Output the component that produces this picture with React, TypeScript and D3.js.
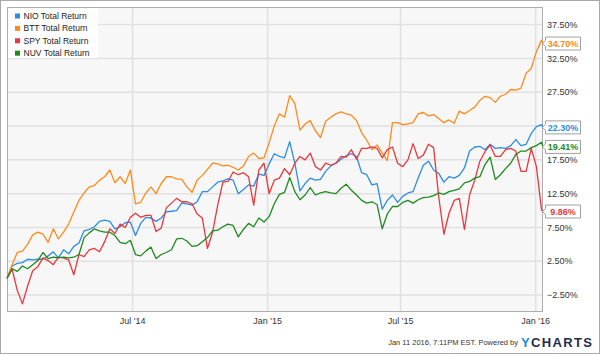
import React, { useEffect, useRef } from "react";
import * as d3 from "d3";

// weekly closes from the start date, last entry is the end date
const startDate = "2014-01-11";
const endDate = "2016-01-11";

const nio = [
  0, 1.8, 2.2, 2.3, 2.8, 2.7, 2.8, 2.8, 3.3, 3.9,
  3.0, 4.2, 3.6, 4.7, 5.2, 7.0, 7.2, 7.6, 8.4, 8.6,
  8.4, 7.3, 7.6, 8.2, 8.3, 6.3, 8.1, 9.0, 8.9, 8.4,
  8.9, 9.8, 9.9, 10.0, 11.1, 11.0, 10.8, 11.3, 12.8, 12.8,
  13.5, 14.2, 14.4, 14.7, 14.5, 12.5, 13.1, 13.8, 13.6, 15.4,
  15.2, 16.9, 18.4, 18.0, 17.8, 20.2, 17.0, 12.9, 14.0, 14.8,
  14.5, 14.6, 15.8, 16.6, 17.0, 17.6, 18.1, 18.4, 18.0, 15.6,
  15.3, 13.8, 14.0, 10.2, 11.5, 12.3, 11.2, 12.1, 12.6, 12.8,
  14.8, 16.7, 17.3, 16.0, 15.5, 14.2, 15.0, 14.8, 15.2, 16.3,
  18.8, 19.4, 19.5, 19.0, 19.8, 19.2, 19.3, 19.2, 19.6, 20.5,
  19.6, 19.8, 21.4, 22.4, 22.7, 22.3,
];
const btt = [
  0, 2.0, 3.8, 4.0, 5.0, 6.4, 6.8, 6.5, 5.3, 7.3,
  5.8, 6.8, 8.0, 9.8, 11.5, 12.6, 13.5, 13.7, 14.5, 15.0,
  16.0, 14.1, 15.0, 14.0, 16.0, 11.0, 11.2, 12.6, 13.5, 12.5,
  14.0, 15.0, 15.0, 14.7, 14.6, 13.5, 12.7, 14.5, 15.2, 16.1,
  17.0, 16.9, 16.6, 16.7, 16.4, 16.0, 16.6, 18.0, 18.5, 17.7,
  17.8, 20.0, 22.5, 24.3, 23.8, 27.0, 25.8, 21.9, 22.8, 23.3,
  21.8, 20.8, 23.2, 23.8, 24.3, 24.6, 24.3, 24.1, 23.3, 21.5,
  20.4, 19.0, 19.7, 18.5, 17.4, 23.0, 23.0, 22.7, 22.8, 23.0,
  24.3, 24.5, 24.0, 24.2, 23.6, 23.0, 23.4, 22.9, 24.7, 24.3,
  24.8, 25.3, 26.3, 26.9, 26.7, 26.0, 26.9, 27.2, 27.9, 27.8,
  28.1, 30.3, 31.0, 33.5, 35.2, 34.7,
];
const spy = [
  0, 1.3, -1.8, -3.8, -1.2, 1.1, 1.7, 3.0, 2.6, 2.0,
  3.1, 3.0, 2.7, 0.5, 3.5, 3.2, 4.2, 4.4, 3.9, 5.4,
  7.3, 6.6, 8.0, 7.5, 9.0, 9.6, 9.0, 9.3, 9.3, 6.9,
  7.4, 10.4, 11.1, 11.8, 11.3, 11.3, 11.0, 9.5, 8.9, 4.4,
  6.8, 10.8, 14.2, 14.3, 15.7, 15.3, 15.6, 15.0, 10.8, 16.0,
  17.0, 12.5, 14.5, 14.8, 16.2, 15.3, 17.0, 18.0, 17.5, 18.5,
  16.5, 16.0, 17.0, 16.7, 17.0, 18.0, 17.9, 19.0, 17.6, 19.2,
  19.2, 19.4, 19.2, 17.8, 19.0, 19.4, 17.0, 16.5, 17.5, 19.9,
  17.7, 18.2, 19.8, 19.3, 12.0, 6.5, 9.6, 11.5, 11.8, 7.2,
  12.3, 14.5, 17.3, 18.7, 19.7, 18.0, 18.0, 19.0, 19.2, 18.8,
  15.8, 15.8, 19.2, 16.5, 10.1, 9.86,
];
const nuv = [
  0, 1.4, 1.0, 1.8, 1.4, 2.0, 2.6, 3.8, 2.9, 3.1,
  3.0, 3.1, 3.0, 3.1, 3.5, 6.0, 6.7, 7.3, 7.0, 6.8,
  6.8, 6.3, 5.3, 5.1, 5.6, 3.5, 3.3, 4.0, 4.6, 2.9,
  3.5, 3.8, 4.2, 5.8, 5.9, 5.5, 4.7, 4.8, 5.4, 6.0,
  7.0, 7.1, 7.6, 8.0, 7.8, 6.1, 7.2, 8.1, 7.6, 8.9,
  8.3, 9.1, 11.0, 12.4, 12.7, 14.9, 12.8, 11.6, 12.3, 13.4,
  12.3, 12.6, 12.8, 12.6, 12.5, 13.3, 13.9, 13.0, 12.3, 11.5,
  11.1, 11.3, 10.9, 7.3, 9.5, 10.6, 10.6, 11.2, 11.5, 11.1,
  11.6, 11.9, 12.0, 12.2, 12.6, 12.4, 12.8, 13.0, 13.2, 14.1,
  14.3, 14.8, 15.0, 16.8, 17.9, 14.6, 15.3, 16.2, 17.0, 18.3,
  18.8, 18.8, 19.3, 19.6, 20.1, 19.41,
];

const seriesNames = ["NIO Total Return", "BTT Total Return", "SPY Total Return", "NUV Total Return"];
const seriesColors = ["#2b8ce6", "#ff8a1a", "#e8383d", "#1d8a1d"];
const yTicks = [-2.5, 2.5, 7.5, 12.5, 17.5, 22.5, 27.5, 32.5, 37.5];
const xTicks = ["2014-07-01", "2015-01-01", "2015-07-01", "2016-01-01"];
const stampText = "Jan 11 2016, 7:11PM EST.  Powered by";

const font = "'Liberation Sans', Arial, sans-serif";

export default function App() {
  const ref = useRef<SVGSVGElement>(null);

  useEffect(() => {
    const W = 600;
    const H = 354;
    const left = 7, right = 543, top = 7, bottom = 312;
    const parse = d3.timeParse("%Y-%m-%d");
    const start = parse(startDate)!;
    const end = parse(endDate)!;

    const dates = d3.range(105).map(i => d3.timeDay.offset(start, i * 7));
    dates.push(end);
    const allSeries = [nio, btt, spy, nuv];

    const x = d3.scaleTime().domain([start, end]).range([left, right]);
    const y = d3.scaleLinear().domain([-5, 40.1]).range([bottom, top]);

    const svg = d3.select(ref.current);
    svg.selectAll("*").remove();
    svg.attr("font-family", font);

    svg.append("rect")
      .attr("x", 0.5).attr("y", 0.5)
      .attr("width", W - 1).attr("height", H - 1)
      .attr("fill", "#fff").attr("stroke", "#a8a8a8");

    svg.append("rect")
      .attr("x", left).attr("y", top)
      .attr("width", right - left).attr("height", bottom - top)
      .attr("fill", "#f7f7f7");

    svg.append("g").selectAll("line").data(yTicks).join("line")
      .attr("x1", left).attr("x2", right)
      .attr("y1", d => y(d)).attr("y2", d => y(d))
      .attr("stroke", "#e1e1e1").attr("stroke-width", 1.5);

    const xTickDates = xTicks.map(d => parse(d)!);
    svg.append("g").selectAll("line").data(xTickDates).join("line")
      .attr("x1", d => x(d)).attr("x2", d => x(d))
      .attr("y1", top).attr("y2", bottom)
      .attr("stroke", "#e1e1e1").attr("stroke-width", 1.5);

    svg.append("rect")
      .attr("x", left + 0.5).attr("y", top + 0.5)
      .attr("width", right - left - 1).attr("height", bottom - top - 1)
      .attr("fill", "none").attr("stroke", "#adadad");

    const line = d3.line<number>()
      .x((_, i) => x(dates[i]))
      .y(d => y(d));

    svg.append("g").selectAll("path").data(allSeries).join("path")
      .attr("d", d => line(d))
      .attr("fill", "none")
      .attr("stroke", (_, i) => seriesColors[i])
      .attr("stroke-width", 1.3)
      .attr("stroke-linejoin", "round");

    // legend
    const legend = svg.append("g");
    legend.append("rect")
      .attr("x", left + 1).attr("y", top + 1)
      .attr("width", 90).attr("height", 50)
      .attr("fill", "#fff").attr("opacity", 0.85);
    const item = legend.selectAll("g.item").data(seriesNames).join("g")
      .attr("class", "item")
      .attr("transform", (_, i) => `translate(15,${16 + i * 12.4})`);
    item.append("rect")
      .attr("x", 0).attr("y", -2.5)
      .attr("width", 5).attr("height", 5)
      .attr("fill", (_, i) => seriesColors[i]);
    item.append("text")
      .attr("x", 8.5).attr("dy", "0.35em")
      .attr("font-size", 8.5).attr("fill", "#222")
      .text(d => d);

    // right axis
    svg.append("g").selectAll("text").data(yTicks).join("text")
      .attr("x", 547).attr("y", d => y(d)).attr("dy", "0.35em")
      .attr("font-size", 9).attr("fill", "#333")
      .text(d => d3.format(".2f")(d) + "%");

    // end value flags
    const flags = svg.append("g").selectAll("g").data(allSeries).join("g")
      .attr("transform", d => `translate(0,${y(d[d.length - 1])})`);
    flags.append("path")
      .attr("d", "M545.5,-6.5H580.5V6.5H545.5V3L542.5,0L545.5,-3Z")
      .attr("fill", "#fff").attr("stroke", "#a0a0a0");
    flags.append("text")
      .attr("x", 563).attr("dy", "0.35em")
      .attr("text-anchor", "middle")
      .attr("font-size", 9).attr("font-weight", "bold")
      .attr("fill", (_, i) => seriesColors[i])
      .text(d => d3.format(".2f")(d[d.length - 1]) + "%");

    // bottom axis
    svg.append("g").selectAll("text").data(xTickDates).join("text")
      .attr("x", d => x(d)).attr("y", 324)
      .attr("text-anchor", "middle")
      .attr("font-size", 9).attr("fill", "#333")
      .text(d => d3.timeFormat("%b '%y")(d));

    // footer
    svg.append("text")
      .attr("x", 518).attr("y", 345)
      .attr("text-anchor", "end")
      .attr("font-size", 7.5).attr("fill", "#333")
      .text(stampText);
    const logo = svg.append("text")
      .attr("x", 521).attr("y", 347)
      .attr("font-size", 13).attr("font-weight", "bold")
      .attr("textLength", 71).attr("lengthAdjust", "spacing");
    logo.append("tspan").attr("fill", "#1b8ae2").text("Y");
    logo.append("tspan").attr("fill", "#1f2c4b").text("CHARTS");
  }, []);

  return (
    <svg
      ref={ref}
      width={600}
      height={354}
      style={{ position: "absolute", left: 0, top: 0 }}
    />
  );
}
